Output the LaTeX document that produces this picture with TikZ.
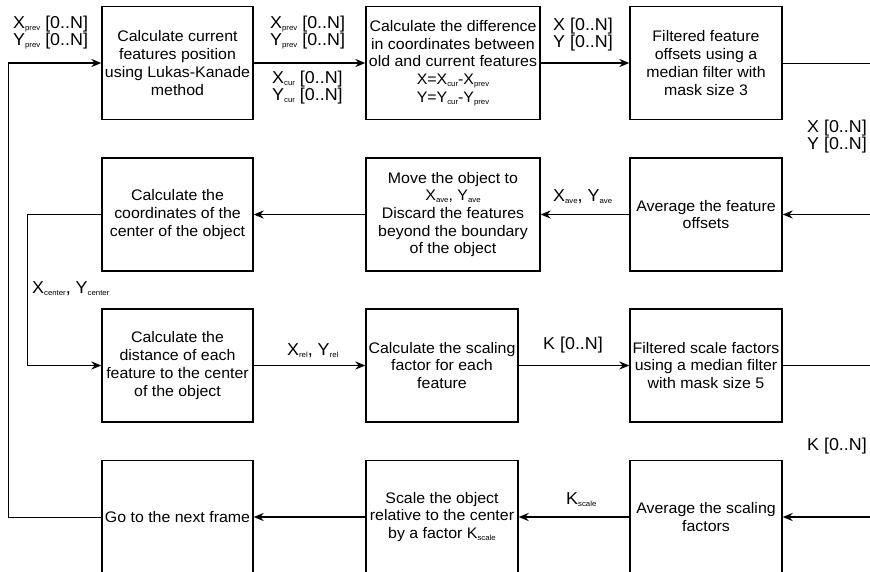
\documentclass[tikz,border=0pt]{standalone}
\usepackage{fontspec}
\setmainfont[FakeStretch=1.04]{Liberation Sans}
\usetikzlibrary{arrows.meta}
\newcommand{\idx}[1]{\raisebox{-1.8pt}{\fontsize{7.5}{7.5}\selectfont #1}}
\tikzset{
	blk/.style={draw=black,line width=1.3pt,minimum height=113pt,inner sep=2pt,align=center,
		font=\fontsize{15.3}{17.7}\selectfont},
	link/.style={draw=black,line width=1.6pt,-{Stealth[length=10pt,width=8pt]}},
	wire/.style={draw=black,line width=0.9pt},
	lbl/.style={inner sep=0pt,align=left,font=\fontsize{17.2}{16}\selectfont},
}

\begin{document}
\begin{tikzpicture}[x=1pt,y=-1pt]
			\clip (0,0) rectangle (870,571);
			% boxes, row by row
			\node[blk,minimum width=151pt] (cur) at (177.5,63) {Calculate current\\features position\\using Lukas-Kanade\\method};
			\node[blk,minimum width=174pt] (diff) at (453,63) {Calculate the difference\\in coordinates between\\old and current features\\X=X\idx{cur}-X\idx{prev}\\Y=Y\idx{cur}-Y\idx{prev}};
			\node[blk,minimum width=152pt] (filt) at (706,63) {Filtered feature\\offsets using a\\median filter with\\mask size 3};
			\node[blk,minimum width=151pt] (ctr) at (177.5,214.5) {Calculate the\\coordinates of the\\center of the object};
			\node[blk,minimum width=174pt] (move) at (453,214.5) {Move the object to\\X\idx{ave}, Y\idx{ave}\\Discard the features\\beyond the boundary\\of the object};
			\node[blk,minimum width=152pt] (avg) at (706,214.5) {Average the feature\\offsets};
			\node[blk,minimum width=151pt] (dist) at (177.5,365.5) {Calculate the\\distance of each\\feature to the center\\of the object};
			\node[blk,minimum width=152pt] (scal) at (442,365.5) {Calculate the scaling\\factor for each\\feature};
			\node[blk,minimum width=152pt] (filtk) at (706,365.5) {Filtered scale factors\\using a median filter\\with mask size 5};
			\node[blk,minimum width=151pt] (nxt) at (177.5,517) {Go to the next frame};
			\node[blk,minimum width=152pt] (scl) at (442,517) {Scale the object\\relative to the center\\by a factor K\idx{scale}};
			\node[blk,minimum width=152pt] (avgk) at (706,517) {Average the scaling\\factors};
			% bends and free ends
			\coordinate (fb) at (8,517);
			\coordinate (fbtop) at (8,63);
			\coordinate (cx) at (27,214.5);
			\coordinate (cxlow) at (27,365.5);
			\coordinate (eA) at (870,63);
			\coordinate (eB) at (870,214.5);
			\coordinate (eC) at (870,365.5);
			\coordinate (eD) at (870,517);
			% connectors
			\draw[wire] (nxt.west) -- (fb) -- (fbtop);
			\draw[link] (fbtop) -- (cur.west);
			\draw[link] (cur.east) -- (diff.west);
			\draw[link] (diff.east) -- (filt.west);
			\draw[wire] (filt.east) -- (eA);
			\draw[link] (eB) -- (avg.east);
			\draw[link] (avg.west) -- (move.east);
			\draw[link] (move.west) -- (ctr.east);
			\draw[wire] (ctr.west) -- (cx) -- (cxlow);
			\draw[link] (cxlow) -- (dist.west);
			\draw[link] (dist.east) -- (scal.west);
			\draw[link] (scal.east) -- (filtk.west);
			\draw[wire] (filtk.east) -- (eC);
			\draw[link] (eD) -- (avgk.east);
			\draw[link] (avgk.west) -- (scl.east);
			\draw[link] (scl.west) -- (nxt.east);
			% labels
			\node[lbl,anchor=west] (inprev) at (13,33) {X\idx{prev} [0..N]\\Y\idx{prev} [0..N]};
			\node[lbl,anchor=west] (oprev) at (270,33) {X\idx{prev} [0..N]\\Y\idx{prev} [0..N]};
			\node[lbl,anchor=west] (ocur) at (272,88) {X\idx{cur} [0..N]\\Y\idx{cur} [0..N]};
			\node[lbl,anchor=west] (oxy) at (553,35) {X [0..N]\\Y [0..N]};
			\node[lbl,anchor=east] (rxy) at (867,137) {X [0..N]\\Y [0..N]};
			\node[lbl,anchor=west] (oave) at (553,197) {X\idx{ave}, Y\idx{ave}};
			\node[lbl,anchor=west] (octr) at (32,289) {X\idx{center}, Y\idx{center}};
			\node[lbl,anchor=west] (orel) at (287,351) {X\idx{rel}, Y\idx{rel}};
			\node[lbl,anchor=west] (ok) at (543,345) {K [0..N]};
			\node[lbl,anchor=east] (rk) at (867,446) {K [0..N]};
			\node[lbl,anchor=west] (oks) at (566,500) {K\idx{scale}};
		\end{tikzpicture}
\end{document}
